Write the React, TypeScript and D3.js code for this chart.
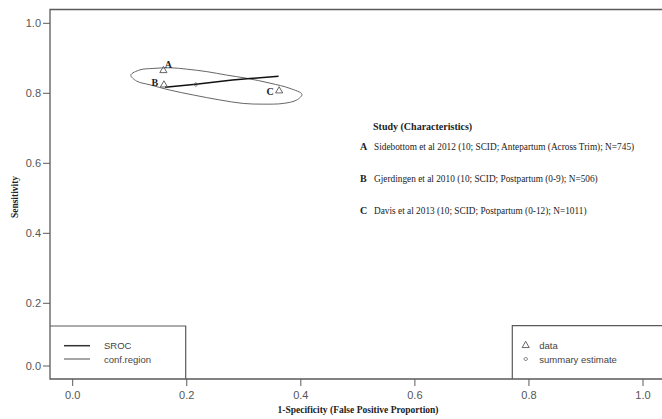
import React from "react";
import * as d3 from "d3";

const xTicks = [0, 0.2, 0.4, 0.6, 0.8, 1.0];
const yTicks = [0, 0.2, 0.4, 0.6, 0.8, 1.0];

const studyLabels = ["A", "B", "C"];
const studyFpr = [0.159, 0.16, 0.362];
const studySens = [0.865, 0.824, 0.807];
const studyText = [
  "Sidebottom et al 2012 (10; SCID; Antepartum (Across Trim); N=745)",
  "Gjerdingen et al 2010 (10; SCID; Postpartum (0-9); N=506)",
  "Davis et al 2013 (10; SCID; Postpartum (0-12); N=1011)",
];

const summaryFpr = 0.216;
const summarySens = 0.825;

const srocFpr = [0.162, 0.216, 0.28, 0.361];
const srocSens = [0.817, 0.826, 0.838, 0.849];

const confFpr = [0.102, 0.118, 0.141, 0.171, 0.2, 0.235, 0.27, 0.305, 0.346, 0.381, 0.402, 0.393, 0.369, 0.334, 0.299, 0.258, 0.212, 0.171, 0.136, 0.112];
const confSens = [0.852, 0.867, 0.871, 0.873, 0.869, 0.862, 0.852, 0.843, 0.829, 0.814, 0.797, 0.781, 0.771, 0.769, 0.771, 0.781, 0.795, 0.809, 0.824, 0.835];

const W = 662;
const H = 419;

export default function App() {
  const x = d3.scaleLinear().domain([0, 1]).range([72.7, 643]);
  const y = d3.scaleLinear().domain([0, 0.2, 1]).range([366, 303.3, 23.3]);

  const boxLeft = 50;
  const boxTop = 9.5;
  const boxBottom = 379;
  const boxRight = 700;

  const axisColor = "#5a5a5a";
  const labelFont = "Liberation Sans, Arial, sans-serif";
  const serif = "Liberation Serif, Times New Roman, serif";

  const sroc = d3.line<number>().x((d, i) => x(srocFpr[i])).y((d, i) => y(srocSens[i]))(srocFpr);
  const conf = d3
    .line<number>()
    .x((d, i) => x(confFpr[i]))
    .y((d, i) => y(confSens[i]))
    .curve(d3.curveCatmullRomClosed.alpha(0.5))(confFpr);

  const tri = d3.symbol().type(d3.symbolTriangle).size(22)();
  const dia = (cx: number, cy: number, r: number) =>
    `M${cx},${cy - r}L${cx + r},${cy}L${cx},${cy + r}L${cx - r},${cy}Z`;

  const labelOffsets = [
    [5, -6],
    [-9, -2],
    [-9, 1],
  ];

  return (
    <svg
      width={W}
      height={H}
      style={{ position: "fixed", left: 0, top: 0, background: "#fff" }}
    >
      <rect x={0} y={0} width={W} height={H} fill="#fff" />
      {/* plot box */}
      <path
        d={`M${boxRight},${boxTop}H${boxLeft}V${boxBottom}H${boxRight}`}
        fill="none"
        stroke={axisColor}
        strokeWidth={1.3}
      />
      {/* y ticks */}
      {yTicks.map((t) => (
        <g key={"y" + t}>
          <line x1={boxLeft - 7} x2={boxLeft} y1={y(t)} y2={y(t)} stroke={axisColor} />
          <text
            x={boxLeft - 9}
            y={y(t)}
            dy="0.35em"
            textAnchor="end"
            fontFamily={labelFont}
            fontSize={11}
            fill="#555"
          >
            {t.toFixed(1)}
          </text>
        </g>
      ))}
      {/* x ticks */}
      {xTicks.map((t) => (
        <g key={"x" + t}>
          <line x1={x(t)} x2={x(t)} y1={boxBottom} y2={boxBottom + 7} stroke={axisColor} />
          <text
            x={x(t)}
            y={boxBottom + 20}
            textAnchor="middle"
            fontFamily={labelFont}
            fontSize={11}
            fill="#555"
          >
            {t.toFixed(1)}
          </text>
        </g>
      ))}
      {/* axis titles */}
      <text
        x={358}
        y={413}
        textAnchor="middle"
        fontFamily={serif}
        fontWeight="bold"
        fontSize={9.5}
        fill="#222"
      >
        1-Specificity (False Positive Proportion)
      </text>
      <text
        transform={`translate(18,197) rotate(-90)`}
        textAnchor="middle"
        fontFamily={serif}
        fontWeight="bold"
        fontSize={9.5}
        fill="#222"
      >
        Sensitivity
      </text>

      {/* confidence region */}
      <path d={conf || ""} fill="none" stroke="#666" strokeWidth={1} />
      {/* SROC */}
      <path d={sroc || ""} fill="none" stroke="#111" strokeWidth={1.5} />
      {/* summary */}
      <path d={dia(x(summaryFpr), y(summarySens), 2)} fill="none" stroke="#555" strokeWidth={0.8} />
      {/* data points */}
      {studyLabels.map((l, i) => (
        <g key={l}>
          <path
            d={tri || ""}
            transform={`translate(${x(studyFpr[i])},${y(studySens[i])})`}
            fill="none"
            stroke="#555"
            strokeWidth={0.9}
          />
          <text
            x={x(studyFpr[i]) + labelOffsets[i][0]}
            y={y(studySens[i]) + labelOffsets[i][1]}
            dy="0.35em"
            textAnchor="middle"
            fontFamily={serif}
            fontWeight="bold"
            fontSize={10}
            fill="#222"
          >
            {l}
          </text>
        </g>
      ))}

      {/* study legend */}
      <text x={373} y={130} fontFamily={serif} fontWeight="bold" fontSize={10} fill="#222">
        Study (Characteristics)
      </text>
      {studyLabels.map((l, i) => (
        <g key={"leg" + l}>
          <text
            x={360}
            y={150 + i * 32}
            fontFamily={serif}
            fontWeight="bold"
            fontSize={10}
            fill="#222"
          >
            {l}
          </text>
          <text x={374} y={150 + i * 32} fontFamily={serif} fontSize={9.3} fill="#222">
            {studyText[i]}
          </text>
        </g>
      ))}

      {/* left legend */}
      <path
        d={`M${boxLeft},326H185.7V${boxBottom}`}
        fill="none"
        stroke={axisColor}
        strokeWidth={1.2}
      />
      <line x1={64} x2={90} y1={345.7} y2={345.7} stroke="#333" strokeWidth={1.5} />
      <line x1={64} x2={90} y1={359} y2={359} stroke="#888" strokeWidth={1.5} />
      <text x={104} y={345.7} dy="0.35em" fontFamily={labelFont} fontSize={9.5} fill="#444">
        SROC
      </text>
      <text x={104} y={359.5} dy="0.35em" fontFamily={labelFont} fontSize={9.5} fill="#444">
        conf.region
      </text>

      {/* right legend */}
      <path
        d={`M512.3,${boxBottom}V325.7H${boxRight}`}
        fill="none"
        stroke={axisColor}
        strokeWidth={1.2}
      />
      <path d={tri || ""} transform="translate(525.7,345.5)" fill="none" stroke="#555" strokeWidth={0.9} />
      <path d={dia(525.7, 359, 2)} fill="none" stroke="#555" strokeWidth={0.8} />
      <text x={539.3} y={346} dy="0.35em" fontFamily={labelFont} fontSize={9.5} fill="#444">
        data
      </text>
      <text x={539.3} y={359.5} dy="0.35em" fontFamily={labelFont} fontSize={9.5} fill="#444">
        summary estimate
      </text>
    </svg>
  );
}
